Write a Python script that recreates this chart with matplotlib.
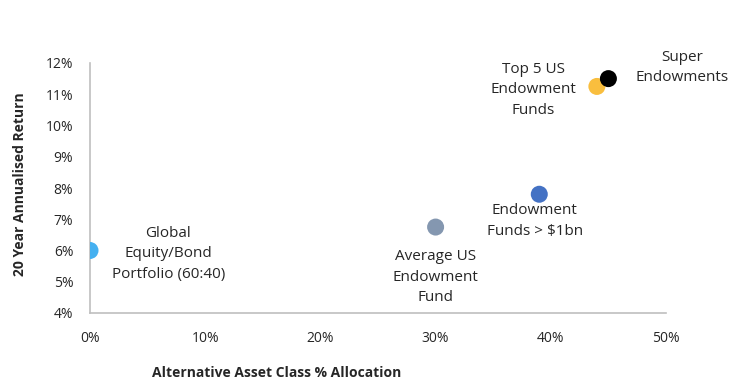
import matplotlib.pyplot as plt
from matplotlib.ticker import FuncFormatter

# data
names = ['Global\nEquity/Bond\nPortfolio (60:40)', 'Average US\nEndowment\nFund',
         'Endowment\nFunds > $1bn', 'Top 5 US\nEndowment\nFunds', 'Super\nEndowments']
alloc = [0.0, 30.0, 39.0, 44.0, 45.0]
ret = [6.0, 6.75, 7.8, 11.25, 11.5]
colors = ['#45B0F0', '#8497B0', '#4472C4', '#F9BE3E', '#000000']

# label anchor positions (data coords)
label_x = [6.8, 30.0, 38.6, 38.5, 51.4]
label_y = [5.9, 5.15, 6.95, 11.15, 11.85]

plt.rcParams['font.family'] = ['Open Sans', 'DejaVu Sans']
text_col = '#262626'

fig = plt.figure(figsize=(7.45, 3.9), dpi=100)
ax = fig.add_axes([90/745, 1 - 313/390, 576/745, 250/390])

ax.scatter(alloc, ret, s=150, c=colors, zorder=3, linewidths=0)
for name, lx, ly in zip(names, label_x, label_y):
  ax.text(lx, ly, name, ha='center', va='center', fontsize=11, color=text_col,
          linespacing=1.5, clip_on=False)

ax.set_xlim(0, 50)
ax.set_ylim(4, 12)
ax.set_xticks(range(0, 51, 10))
ax.set_yticks(range(4, 13))
ax.xaxis.set_major_formatter(FuncFormatter(lambda v, _: f'{v:.0f}%'))
ax.yaxis.set_major_formatter(FuncFormatter(lambda v, _: f'{v:.0f}%'))
ax.tick_params(length=0, labelsize=10, colors=text_col)
ax.tick_params(axis='x', pad=13)
ax.tick_params(axis='y', pad=12)

for side in ['top', 'right']:
  ax.spines[side].set_visible(False)
for side in ['left', 'bottom']:
  ax.spines[side].set_color('#BFBFBF')
  ax.spines[side].set_linewidth(1.2)
ax.patch.set_alpha(0)

ax.set_xlabel('Alternative Asset Class % Allocation', fontsize=10, fontweight='bold', color=text_col)
ax.xaxis.set_label_coords((277 - 90) / 576, -(366 - 313) / 250)
ax.set_ylabel('20 Year Annualised Return', fontsize=10, fontweight='bold', color=text_col)
ax.yaxis.set_label_coords(-(90 - 27) / 576, (313 - 184) / 250)

fig.savefig('out.png', dpi=100)
